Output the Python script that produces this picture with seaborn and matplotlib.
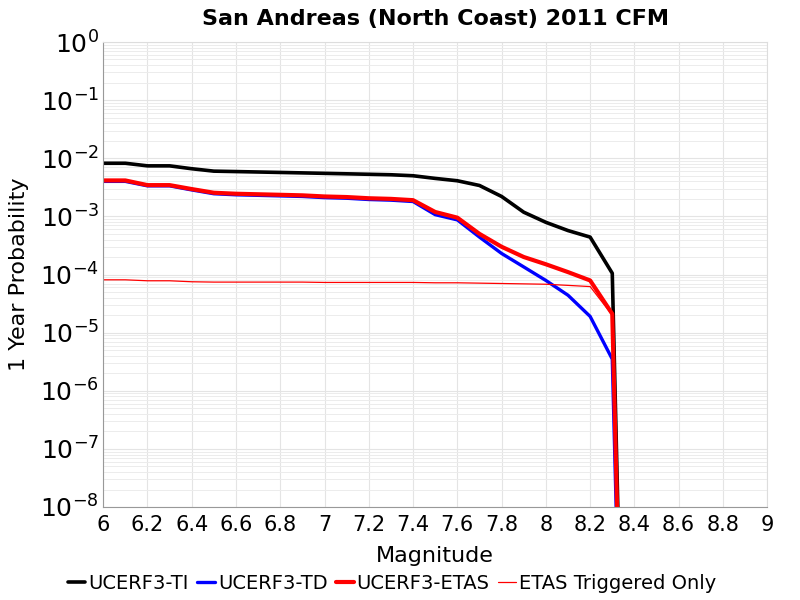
import pandas as pd
import numpy as np
import matplotlib.pyplot as plt
import matplotlib.ticker as mticker
import seaborn as sns

# DATA
magnitude = [6.0, 6.1, 6.2, 6.3, 6.4, 6.5, 6.6, 6.7, 6.8, 6.9, 7.0, 7.1, 7.2,
             7.3, 7.4, 7.5, 7.6, 7.7, 7.8, 7.9, 8.0, 8.1, 8.2, 8.3, 8.4]
prob_ti = [8.2e-3, 8.2e-3, 7.4e-3, 7.4e-3, 6.6e-3, 6.0e-3, 5.9e-3, 5.8e-3,
           5.7e-3, 5.6e-3, 5.5e-3, 5.4e-3, 5.3e-3, 5.2e-3, 5.0e-3, 4.5e-3,
           4.1e-3, 3.4e-3, 2.2e-3, 1.18e-3, 7.9e-4, 5.7e-4, 4.4e-4, 1.05e-4, 1e-20]
prob_td = [4.0e-3, 4.0e-3, 3.35e-3, 3.35e-3, 2.85e-3, 2.45e-3, 2.35e-3, 2.3e-3,
           2.25e-3, 2.2e-3, 2.1e-3, 2.05e-3, 1.95e-3, 1.9e-3, 1.8e-3, 1.07e-3,
           8.7e-4, 4.4e-4, 2.3e-4, 1.35e-4, 7.9e-5, 4.4e-5, 1.9e-5, 3.5e-6, 1e-20]
prob_etas = [4.15e-3, 4.15e-3, 3.45e-3, 3.45e-3, 2.95e-3, 2.55e-3, 2.45e-3, 2.4e-3,
             2.35e-3, 2.3e-3, 2.2e-3, 2.15e-3, 2.05e-3, 2.0e-3, 1.9e-3, 1.19e-3,
             9.5e-4, 5.0e-4, 3.0e-4, 2.0e-4, 1.5e-4, 1.1e-4, 7.9e-5, 2.1e-5, 1e-20]
prob_trig = [8.1e-5, 8.1e-5, 7.8e-5, 7.8e-5, 7.5e-5, 7.4e-5, 7.4e-5, 7.4e-5,
             7.4e-5, 7.4e-5, 7.3e-5, 7.3e-5, 7.3e-5, 7.3e-5, 7.3e-5, 7.2e-5,
             7.2e-5, 7.1e-5, 7.0e-5, 6.9e-5, 6.8e-5, 6.5e-5, 6.2e-5, 2.0e-5, 1e-20]

series_names = ['UCERF3-TI', 'UCERF3-TD', 'UCERF3-ETAS', 'ETAS Triggered Only']

sns.set_style('white')
plt.rcParams['font.family'] = ['DejaVu Sans']
plt.rcParams['text.color'] = 'black'
plt.rcParams['axes.labelcolor'] = 'black'
plt.rcParams['xtick.color'] = 'black'
plt.rcParams['ytick.color'] = 'black'

fig, ax = plt.subplots(figsize=(8, 6), dpi=100)
fig.subplots_adjust(left=0.129, right=0.959, bottom=0.155, top=0.93)

styles = [
    (prob_ti, 'black', 2.6),
    (prob_td, 'blue', 2.4),
    (prob_etas, 'red', 3.0),
    (prob_trig, 'red', 0.9),
]
for name, (vals, color, lw) in zip(series_names, styles):
    sns.lineplot(x=magnitude, y=vals, ax=ax, color=color, linewidth=lw, label=name)

ax.set_yscale('log')
ax.set_xlim(6, 9)
ax.set_ylim(1e-8, 1)
ax.xaxis.set_major_locator(mticker.MultipleLocator(0.2))
ax.xaxis.set_major_formatter(mticker.FuncFormatter(lambda v, p: f"{v:g}"))
ax.yaxis.set_major_locator(mticker.LogLocator(base=10, numticks=20))
ax.yaxis.set_minor_locator(mticker.LogLocator(base=10, subs=np.arange(2, 10), numticks=20))
ax.yaxis.set_minor_formatter(mticker.NullFormatter())

ax.grid(True, which='major', color='#e4e4e4', linewidth=0.8)
ax.grid(True, which='minor', axis='y', color='#ececec', linewidth=0.7)
ax.tick_params(axis='y', which='major', labelsize=18, length=0, pad=3)
ax.tick_params(axis='y', which='minor', length=0)
ax.tick_params(axis='x', labelsize=15, length=0, pad=6)

for side in ['left', 'bottom']:
    ax.spines[side].set_color('#999999')
for side in ['top', 'right']:
    ax.spines[side].set_color('#dddddd')

ax.set_xlabel('Magnitude', fontsize=16, labelpad=8)
ax.set_ylabel('1 Year Probability', fontsize=16)
ax.yaxis.set_label_coords(-0.112, 0.5)
ax.set_title('San Andreas (North Coast) 2011 CFM', fontsize=16, fontweight='bold', pad=12)

ax.legend_.remove()
handles, labels = ax.get_legend_handles_labels()
fig.legend(handles, labels, loc='center', bbox_to_anchor=(0.49, 0.028), ncol=4,
           frameon=False, fontsize=14, handlelength=0.9, handletextpad=0.15,
           columnspacing=0.45, borderaxespad=0)

plt.savefig('out.png', dpi=100)
